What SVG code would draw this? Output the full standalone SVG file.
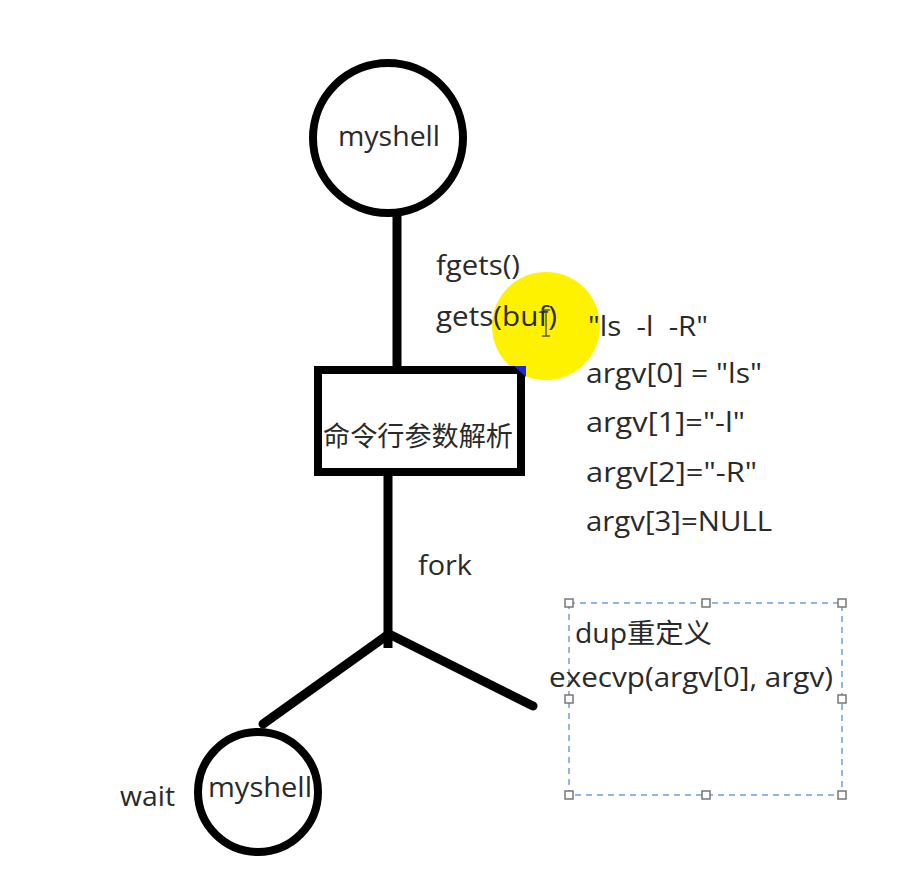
<svg xmlns="http://www.w3.org/2000/svg" width="897" height="882" viewBox="0 0 897 882">
<style>
.t{font-family:"Open Sans","Noto Sans CJK SC",sans-serif;font-size:27px;fill:#2a2a2a;white-space:pre}
.node{fill:#fff;stroke:#000;stroke-width:8}
.conn{stroke:#000;stroke-width:9;fill:none}
.h{fill:#fff;stroke:#777;stroke-width:1.5}
</style>
<rect width="897" height="882" fill="#fff"/>
<g id="highlight">
<circle cx="546" cy="326" r="54" fill="#fff200"/>
</g>
<g id="connectors">
<line class="conn" x1="397" y1="213" x2="397" y2="370"/>
<line class="conn" x1="388" y1="472" x2="388" y2="648"/>
<line class="conn" x1="389" y1="634" x2="263" y2="724" stroke-linecap="round"/>
<line class="conn" x1="389" y1="634" x2="533" y2="706" stroke-linecap="round"/>
</g>
<g id="node-myshell-top">
<circle class="node" cx="388" cy="138" r="75"/>
<text class="t" x="338" y="146" textLength="102" lengthAdjust="spacingAndGlyphs">myshell</text>
</g>
<g id="node-parse">
<rect class="node" x="318" y="370" width="203" height="102" stroke-width="9"/>
<polygon points="514,366 526,366 526,377" fill="#1c2bd1"/>
<text class="t" x="323" y="446" textLength="190" lengthAdjust="spacingAndGlyphs">命令行参数解析</text>
</g>
<g id="node-myshell-bottom">
<circle class="node" cx="258" cy="792" r="60"/>
<text class="t" x="208" y="797" textLength="104" lengthAdjust="spacingAndGlyphs">myshell</text>
</g>
<g id="node-exec">
<rect x="569" y="603" width="273" height="192" fill="none" stroke="#6fa0d8" stroke-width="1.5" stroke-dasharray="6,5"/>
<rect class="h" x="565" y="599" width="8" height="8"/>
<rect class="h" x="702" y="599" width="8" height="8"/>
<rect class="h" x="838" y="599" width="8" height="8"/>
<rect class="h" x="565" y="695" width="8" height="8"/>
<rect class="h" x="838" y="695" width="8" height="8"/>
<rect class="h" x="565" y="791" width="8" height="8"/>
<rect class="h" x="702" y="791" width="8" height="8"/>
<rect class="h" x="838" y="791" width="8" height="8"/>
<text class="t" x="575" y="643" textLength="137" lengthAdjust="spacingAndGlyphs">dup重定义</text>
<text class="t" x="549" y="687" textLength="284" lengthAdjust="spacingAndGlyphs">execvp(argv[0], argv)</text>
</g>
<g id="labels">
<text class="t" x="436" y="275" textLength="84" lengthAdjust="spacingAndGlyphs">fgets()</text>
<text class="t" x="436" y="326" textLength="121" lengthAdjust="spacingAndGlyphs">gets(buf)</text>
<text class="t" x="588" y="336" textLength="120" lengthAdjust="spacingAndGlyphs">"ls  -l  -R"</text>
<text class="t" x="586" y="383" textLength="176" lengthAdjust="spacingAndGlyphs">argv[0] = "ls"</text>
<text class="t" x="586" y="432" textLength="159" lengthAdjust="spacingAndGlyphs">argv[1]="-l"</text>
<text class="t" x="586" y="482" textLength="171" lengthAdjust="spacingAndGlyphs">argv[2]="-R"</text>
<text class="t" x="586" y="531" textLength="186" lengthAdjust="spacingAndGlyphs">argv[3]=NULL</text>
<text class="t" x="418" y="575" textLength="54" lengthAdjust="spacingAndGlyphs">fork</text>
<text class="t" x="120" y="806" textLength="55" lengthAdjust="spacingAndGlyphs">wait</text>
</g>
<g id="cursor" stroke="#555" stroke-width="1.5">
<line x1="546" y1="310" x2="546" y2="336"/>
<line x1="542" y1="310" x2="550" y2="310"/>
<line x1="542" y1="336" x2="550" y2="336"/>
</g>
</svg>
